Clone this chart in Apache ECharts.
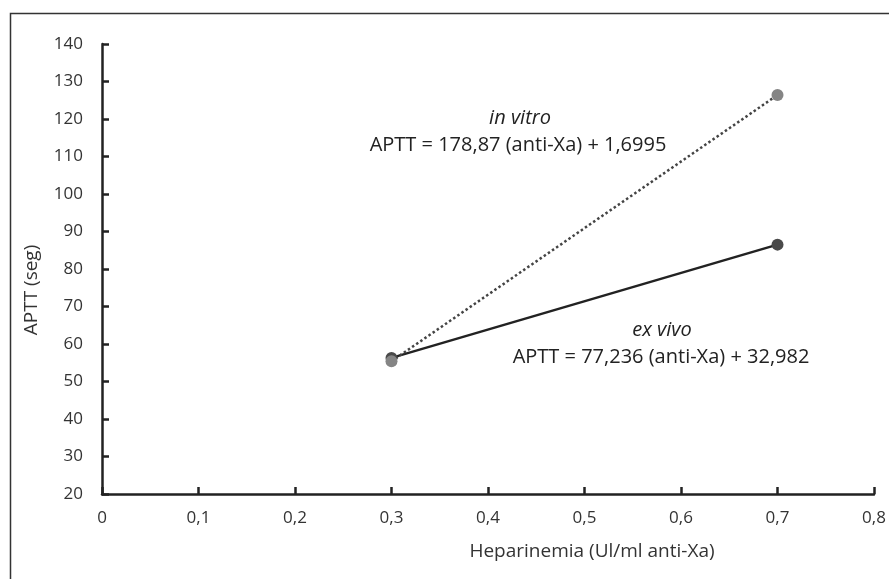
<!DOCTYPE html>
<html>
<head>
<meta charset="utf-8">
<script src="https://cdn.jsdelivr.net/npm/echarts@6/dist/echarts.min.js"></script>
<style>
  html, body { margin: 0; padding: 0; background: #fff; }
  #chart { width: 889px; height: 579px; }
</style>
</head>
<body>
<div id="chart"></div>
<script>
// heparinemia (x) values
var heparinemia = [0.3, 0.7];
// APTT in vitro
var inVitro = [55.4, 126.4];
// APTT ex vivo
var exVivo = [56.3, 86.5];
// axis ticks
var yTicks = [20, 140, 10];
var xTicks = [0, 0.8, 0.1];

var FONT = 'Open Sans';

var chart = echarts.init(document.getElementById('chart'));

var toPairs = function (xs, ys) {
  return xs.map(function (x, i) { return [x, ys[i]]; });
};

var option = {
  animation: false,
  backgroundColor: '#fff',
  grid: { left: 102, right: 15, top: 44, bottom: 85 },
  xAxis: {
    type: 'value',
    min: xTicks[0],
    max: xTicks[1],
    interval: xTicks[2],
    name: 'Heparinemia (Ul/ml anti-Xa)',
    nameLocation: 'middle',
    nameGap: 48,
    nameTextStyle: { fontFamily: FONT, fontSize: 19, color: '#333', padding: [0, 0, 0, 208] },
    axisLine: { lineStyle: { color: '#222', width: 2.5 } },
    axisTick: { show: true, inside: true, length: 7, lineStyle: { color: '#222', width: 2.5 } },
    axisLabel: {
      fontFamily: FONT, fontSize: 17, color: '#333', margin: 16,
      formatter: function (v) { return v === 0 ? '0' : v.toFixed(1).replace('.', ','); }
    },
    splitLine: { show: false }
  },
  yAxis: {
    type: 'value',
    min: yTicks[0],
    max: yTicks[1],
    interval: yTicks[2],
    axisLine: { show: true, lineStyle: { color: '#222', width: 2.5 } },
    axisTick: { show: true, inside: true, length: 7, lineStyle: { color: '#222', width: 2.5 } },
    axisLabel: { fontFamily: FONT, fontSize: 17, color: '#333', margin: 19 },
    splitLine: { show: false }
  },
  graphic: [
    {
      type: 'rect', silent: true, z: -1,
      shape: { x: 10.5, y: 13.5, width: 900, height: 600 },
      style: { fill: 'none', stroke: '#333', lineWidth: 1.5 }
    },
    {
      type: 'text', x: 32, y: 290, rotation: Math.PI / 2,
      style: { text: 'APTT (seg)', fontFamily: FONT, fontSize: 19, fill: '#333', align: 'center', verticalAlign: 'middle' }
    },
    {
      type: 'text', x: 520, y: 118,
      style: { text: 'in vitro', fontFamily: FONT, fontStyle: 'italic', fontSize: 20, fill: '#222', align: 'center', verticalAlign: 'middle' }
    },
    {
      type: 'text', x: 518, y: 145,
      style: { text: 'APTT = 178,87 (anti-Xa) + 1,6995', fontFamily: FONT, fontSize: 20, fill: '#222', align: 'center', verticalAlign: 'middle' }
    },
    {
      type: 'text', x: 662, y: 330,
      style: { text: 'ex vivo', fontFamily: FONT, fontStyle: 'italic', fontSize: 20, fill: '#222', align: 'center', verticalAlign: 'middle' }
    },
    {
      type: 'text', x: 661, y: 357,
      style: { text: 'APTT = 77,236 (anti-Xa) + 32,982', fontFamily: FONT, fontSize: 20, fill: '#222', align: 'center', verticalAlign: 'middle' }
    }
  ],
  series: [
    {
      name: 'ex vivo',
      type: 'line',
      data: toPairs(heparinemia, exVivo),
      symbol: 'circle',
      symbolSize: 12,
      itemStyle: { color: '#4a4a4a' },
      lineStyle: { color: '#222', width: 2.5 },
      z: 2
    },
    {
      name: 'in vitro',
      type: 'line',
      data: toPairs(heparinemia, inVitro),
      symbol: 'circle',
      symbolSize: 12,
      itemStyle: { color: '#858585' },
      lineStyle: { color: '#444', width: 2.5, type: [2.5, 2.5] },
      z: 3
    }
  ]
};

chart.setOption(option);
</script>
</body>
</html>
